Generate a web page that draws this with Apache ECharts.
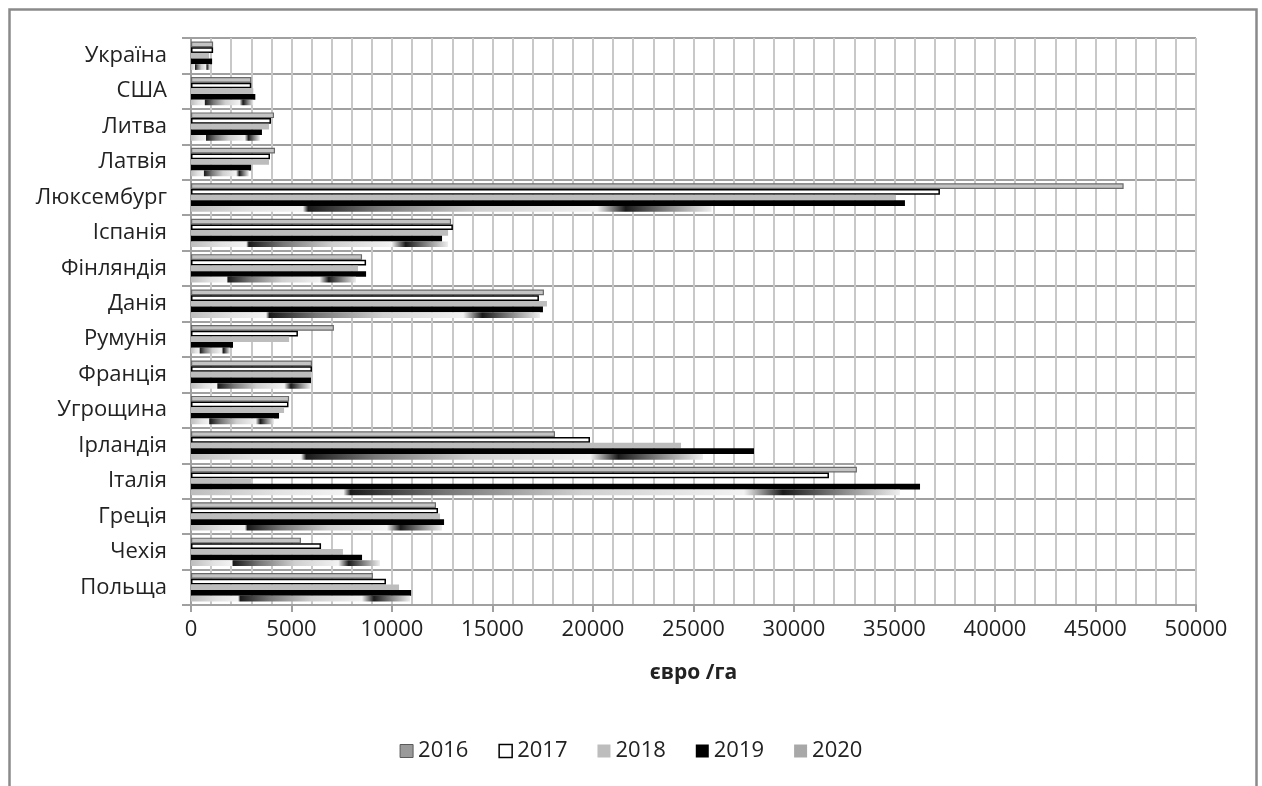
<!DOCTYPE html>
<html>
<head>
<meta charset="utf-8">
<script src="https://cdn.jsdelivr.net/npm/echarts@6/dist/echarts.min.js"></script>
<style>
html,body{margin:0;padding:0;background:#fff;}
#c{width:1262px;height:786px;}
</style>
</head>
<body>
<div id="c"></div>
<script>
var categories = ['Україна','США','Литва','Латвія','Люксембург','Іспанія','Фінляндія','Данія','Румунія','Франція','Угрощина','Ірландія','Італія','Греція','Чехія','Польща'];
var years = ['2016','2017','2018','2019','2020'];
var v2016 = [1100, 3000, 4130, 4180, 46400, 12940, 8510, 17560, 7110, 6020, 4880, 18110, 33130, 12190, 5470, 9050];
var v2017 = [1100, 3000, 3980, 3930, 37260, 13030, 8710, 17310, 5320, 6020, 4850, 19850, 31740, 12290, 6470, 9700];
var v2018 = [900, 3100, 3880, 3880, 35070, 12790, 8310, 17710, 4880, 5970, 4630, 24380, 2990, 12390, 7560, 10350];
var v2019 = [1050, 3200, 3530, 2990, 35520, 12490, 8710, 17510, 2090, 5970, 4380, 28010, 36270, 12590, 8510, 10950];
var v2020 = [950, 3100, 3430, 2880, 25900, 12790, 8210, 17360, 1940, 5950, 4130, 25470, 35270, 12490, 9400, 10900];
var axisTitle = 'євро /га';

var FONT = '"Open Sans", "Noto Sans", sans-serif';
var grad2020 = new echarts.graphic.LinearGradient(0, 0, 1, 0, [
  {offset: 0, color: '#bdbdbd'},
  {offset: 0.12, color: '#e2e2e2'},
  {offset: 0.215, color: '#f2f2f2'},
  {offset: 0.225, color: '#1a1a1a'},
  {offset: 0.36, color: '#777777'},
  {offset: 0.55, color: '#cfcfcf'},
  {offset: 0.78, color: '#f2f2f2'},
  {offset: 0.835, color: '#1a1a1a'},
  {offset: 0.92, color: '#8a8a8a'},
  {offset: 1, color: '#eeeeee'}
]);
var styles = [
  {color: '#c4c4c4', borderColor: '#6a6a6a', borderWidth: 1.2},
  {color: '#ffffff', borderColor: '#000000', borderWidth: 1.5},
  {color: '#bdbdbd'},
  {color: '#000000'},
  {color: grad2020}
];
var legendStyles = [
  {color: '#9a9a9a', borderColor: '#5a5a5a', borderWidth: 1},
  {color: '#ffffff', borderColor: '#000000', borderWidth: 1.5},
  {color: '#bdbdbd'},
  {color: '#000000'},
  {color: '#a8a8a8'}
];
var values = [v2016, v2017, v2018, v2019, v2020];

var series = years.map(function (y, i) {
  return {
    name: y,
    type: 'bar',
    data: values[i],
    barGap: '0%',
    barCategoryGap: '20%',
    itemStyle: styles[i],
    emphasis: {disabled: true}
  };
});

var chart = echarts.init(document.getElementById('c'), null, {renderer: 'canvas'});
chart.setOption({
  animation: false,
  backgroundColor: '#ffffff',
  graphic: [{
    type: 'rect',
    shape: {x: 9.5, y: 9.5, width: 1247, height: 820},
    style: {fill: 'none', stroke: '#8a8a8a', lineWidth: 2.5},
    silent: true
  }],
  grid: {left: 191, right: 66, top: 38, bottom: 181, containLabel: false},
  legend: {
    top: 735,
    left: 'center',
    itemWidth: 13,
    itemHeight: 13,
    itemGap: 30,
    icon: 'rect',
    textStyle: {fontSize: 22, color: '#222', fontFamily: FONT},
    data: years.map(function (y, i) { return {name: y, itemStyle: legendStyles[i]}; })
  },
  xAxis: {
    type: 'value',
    min: 0,
    max: 50000,
    interval: 5000,
    name: axisTitle,
    nameLocation: 'middle',
    nameGap: 58,
    nameTextStyle: {fontSize: 21, fontWeight: 'bold', color: '#222', fontFamily: FONT},
    axisLine: {show: true, lineStyle: {color: '#a0a0a0', width: 2}},
    axisTick: {show: true, length: 7, lineStyle: {color: '#a0a0a0', width: 2}},
    axisLabel: {fontSize: 22, color: '#222', margin: 14, fontFamily: FONT,
      formatter: function (v) { return String(v); }},
    splitLine: {show: true, lineStyle: {color: '#c8c8c8', width: 2}},
    minorTick: {show: false, splitNumber: 5},
    minorSplitLine: {show: true, lineStyle: {color: '#c8c8c8', width: 2}}
  },
  yAxis: {
    type: 'category',
    inverse: true,
    data: categories,
    axisLine: {show: true, lineStyle: {color: '#a0a0a0', width: 2}},
    axisTick: {show: true, length: 9, lineStyle: {color: '#a0a0a0', width: 2}},
    axisLabel: {fontSize: 22, color: '#222', margin: 24, fontFamily: FONT},
    splitLine: {show: true, lineStyle: {color: '#a0a0a0', width: 2}}
  },
  series: series
});
</script>
</body>
</html>
